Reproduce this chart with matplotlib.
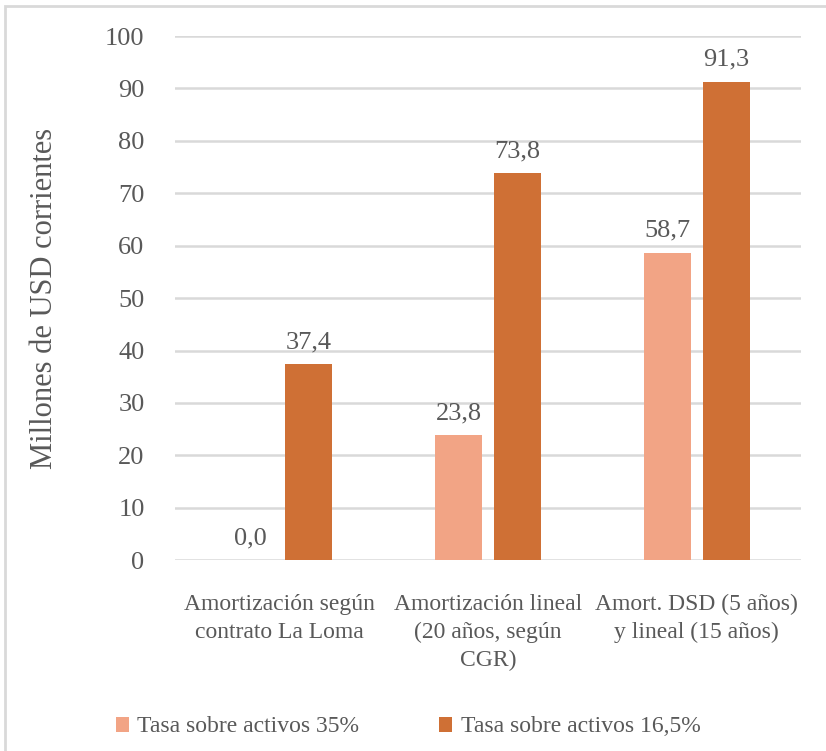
import matplotlib.pyplot as plt
import matplotlib.patches as patches
import numpy as np

categories = ["Amortización según\ncontrato La Loma",
              "Amortización lineal\n(20 años, según\nCGR)",
              "Amort. DSD (5 años)\ny lineal (15 años)"]
series_names = ["Tasa sobre activos 35%", "Tasa sobre activos 16,5%"]
tasa_35 = [0.0, 23.8, 58.7]
tasa_165 = [37.4, 73.8, 91.3]
colors = ["#F2A485", "#CF7035"]
grey = "#595959"

plt.rcParams['font.family'] = ['Liberation Serif', 'DejaVu Serif']

fig = plt.figure(figsize=(8.26, 7.51), dpi=100)
ax = fig.add_axes([0.212, 0.254, 0.758, 0.698])

# chart frame, open to the right and bottom
fig.patches.append(patches.Rectangle((0.006, -0.05), 1.2, 1.042, transform=fig.transFigure,
                                     fill=False, edgecolor="#D9D9D9", linewidth=2))

x = np.arange(len(categories))
w = 0.225
off = 0.141
b1 = ax.bar(x - off, tasa_35, w, color=colors[0], label=series_names[0], zorder=3)
b2 = ax.bar(x + off, tasa_165, w, color=colors[1], label=series_names[1], zorder=3)

for bars, vals in ((b1, tasa_35), (b2, tasa_165)):
    for r, v in zip(bars, vals):
        ax.annotate(f"{v:.1f}".replace(".", ","), (r.get_x() + r.get_width() / 2, v),
                    xytext=(0, 8), textcoords="offset points", ha="center", va="bottom",
                    fontsize=19, color=grey)

ax.set_xlim(-0.5, 2.5)
ax.set_ylim(0, 100)
ax.set_yticks(range(0, 101, 10))
ax.yaxis.grid(True, color="#D9D9D9", linewidth=1.8, zorder=0)
for s in ax.spines.values():
    s.set_visible(False)
ax.tick_params(axis="both", length=0, colors=grey)
ax.tick_params(axis="y", labelsize=19, pad=22)
ax.set_xticks(x)
ax.set_xticklabels(categories, fontsize=17, color=grey, linespacing=1.45)
ax.tick_params(axis="x", pad=24)
ax.set_ylabel("Millones de USD corrientes", fontsize=22, color=grey)
ax.yaxis.set_label_coords(-0.185, 0.5)

ax.legend(loc="center", bbox_to_anchor=(0.372, -0.318), ncol=2, frameon=False,
          fontsize=17, labelcolor=grey, handlelength=0.55, handleheight=0.6,
          handletextpad=0.35, columnspacing=3.4)

fig.savefig("out.png", dpi=100)
